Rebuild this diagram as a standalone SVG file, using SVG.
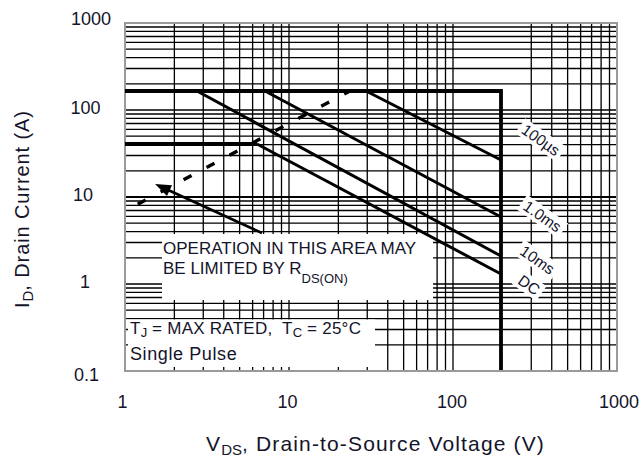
<svg xmlns="http://www.w3.org/2000/svg" width="643" height="457" viewBox="0 0 643 457">
<defs>
<style>
.grid{stroke:#000;stroke-width:1.3;fill:none}
.major{stroke:#000;stroke-width:1.8;fill:none}
.limit{stroke:#000;stroke-width:3.8;fill:none;stroke-linejoin:miter}
.curve{stroke:#000;stroke-width:3;fill:none}
.dash{stroke:#000;stroke-width:3.4;fill:none;stroke-dasharray:9 17;stroke-dashoffset:11.6}
.mask{fill:#fff}
text{font-family:"Liberation Sans",Arial,Helvetica,sans-serif;fill:#14142a}
.tick{font-size:18px}
.title{font-size:21px;letter-spacing:1.15px}
.ytitle{font-size:20px;letter-spacing:0.9px}
.note{font-size:17px}
.sub{font-size:13px;letter-spacing:0}
.rot{font-size:15.5px}
</style>
</defs>
<rect width="643" height="457" fill="#fff"/>

<g id="grid">
<path class="grid" d="M174.37 23V371M203.25 23V371M223.74 23V371M239.63 23V371M252.62 23V371M263.6 23V371M273.11 23V371M281.5 23V371M338.37 23V371M367.25 23V371M387.74 23V371M403.63 23V371M416.62 23V371M427.6 23V371M437.11 23V371M445.5 23V371M531.25 23V371M551.74 23V371M567.63 23V371M580.62 23V371M591.6 23V371M601.11 23V371M609.5 23V371"/>
<path class="grid" d="M125 344.81H617M125 329.49H617M125 318.62H617M125 310.19H617M125 303.3H617M125 297.48H617M125 292.43H617M125 287.98H617M125 257.81H617M125 242.49H617M125 231.62H617M125 223.19H617M125 216.3H617M125 210.48H617M125 205.43H617M125 200.98H617M125 170.81H617M125 155.49H617M125 144.62H617M125 136.19H617M125 129.3H617M125 123.48H617M125 118.43H617M125 113.98H617M125 83.81H617M125 68.49H617M125 57.62H617M125 49.19H617M125 42.3H617M125 36.48H617M125 31.43H617M125 26.98H617"/>
<path class="grid" d="M289 23V371M453 23V371M125 284H617M125 110H617"/>
<path class="major" d="M125 197H617"/>
</g>

<g id="note-box">
<rect class="mask" x="162" y="234" width="271" height="66"/>
<text class="note" x="163" y="253.5">OPERATION IN THIS AREA MAY</text>
<text class="note" x="163" y="273.5">BE LIMITED BY R<tspan class="sub" dy="9">DS(ON)</tspan></text>
</g>

<g id="condition-box">
<rect class="mask" x="126" y="319.5" width="249" height="51"/>
<path class="grid" d="M174.37 371V367M203.25 371V367M223.74 371V367M239.63 371V367M252.62 371V367M263.6 371V367M273.11 371V367M281.5 371V367M289 371V367M338.37 371V367M367.25 371V367M125 329.49H128M125 344.81H128"/>
<text class="note" x="130" y="333.5" style="letter-spacing:0.25px">T<tspan class="sub" dy="3.5">J</tspan><tspan dy="-3.5"> = MAX RATED,&#160; T</tspan><tspan class="sub" dy="3.5">C</tspan><tspan dy="-3.5"> = 25°C</tspan></text>
<text class="note" x="130" y="359.5" style="font-size:18px;letter-spacing:0.6px">Single Pulse</text>
</g>

<rect id="frame" x="125" y="23" width="492" height="348" fill="none" stroke="#9a9a9a" stroke-width="2"/>

<g id="connectors">
<path class="limit" d="M125 91H501V370"/>
<path class="limit" d="M125 144H257"/>
<path id="c-100us" class="curve" d="M366 91L501 160"/>
<path id="c-1ms" class="curve" d="M265 91L501 217"/>
<path id="c-10ms" class="curve" d="M197 91L501 256"/>
<path id="c-dc" class="curve" d="M257 144L501 274"/>
<path id="rds-limit" class="dash" d="M125 211L350 91"/>
<path id="note-arrow" class="curve" style="stroke-width:2.6" d="M262 233L167 189.5"/>
<polygon points="155,184 172,185.2 167,196.1" fill="#000"/>
</g>

<g id="label-100us" transform="translate(540.8 140) rotate(35)">
<rect class="mask" x="-25" y="-9" width="50" height="18"/>
<text class="rot" x="0" y="5.4" text-anchor="middle">100µs</text>
</g>
<g id="label-1ms" transform="translate(542.5 216.5) rotate(35)">
<rect class="mask" x="-25" y="-9" width="50" height="18"/>
<text class="rot" x="0" y="5.4" text-anchor="middle">1.0ms</text>
</g>
<g id="label-10ms" transform="translate(537.5 260) rotate(35)">
<rect class="mask" x="-22.5" y="-9" width="45" height="18"/>
<text class="rot" x="0" y="5.4" text-anchor="middle">10ms</text>
</g>
<g id="label-dc" transform="translate(529 285) rotate(35)">
<rect class="mask" x="-15" y="-9" width="30" height="18"/>
<text class="rot" x="0" y="5.4" text-anchor="middle">DC</text>
</g>

<g id="y-ticks">
<text class="tick" x="71" y="25">1000</text>
<text class="tick" x="70.5" y="114">100</text>
<text class="tick" x="73" y="201">10</text>
<text class="tick" x="80" y="288">1</text>
<text class="tick" x="74" y="381">0.1</text>
</g>
<g id="x-ticks">
<text class="tick" x="122.5" y="408" text-anchor="middle">1</text>
<text class="tick" x="287.5" y="408" text-anchor="middle">10</text>
<text class="tick" x="452" y="408" text-anchor="middle">100</text>
<text class="tick" x="619" y="408" text-anchor="middle">1000</text>
</g>

<g id="axis-titles">
<text class="title" x="206" y="451">V<tspan class="sub" style="font-size:15px" dy="4">DS</tspan><tspan dy="-4">, Drain-to-Source Voltage (V)</tspan></text>
<text class="ytitle" transform="translate(29 308) rotate(-90)" x="0" y="0">I<tspan class="sub" style="font-size:15px" dy="4">D</tspan><tspan dy="-4">, Drain Current (A)</tspan></text>
</g>
</svg>
